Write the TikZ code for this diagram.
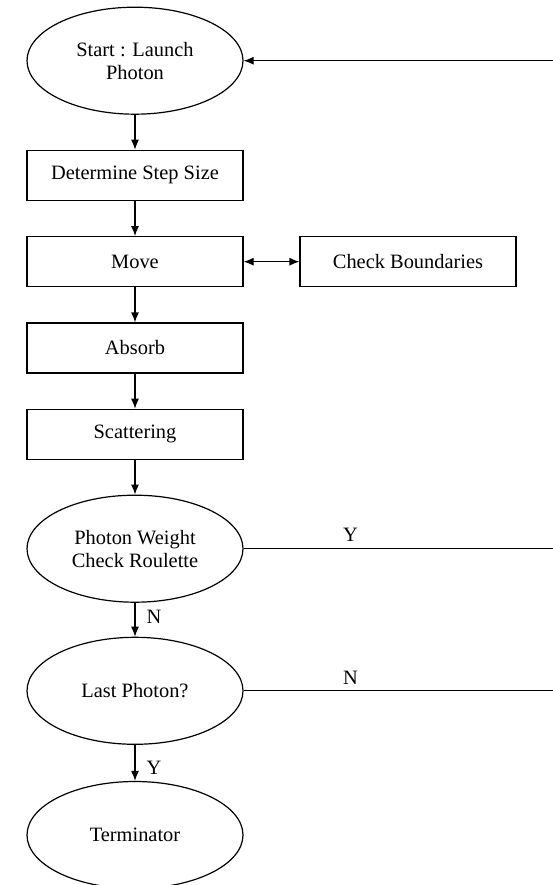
\documentclass[tikz,border=0pt]{standalone}
\usepackage{fontspec}
\setmainfont{Liberation Serif}
\usetikzlibrary{shapes.geometric,arrows.meta}
\begin{document}
\begin{tikzpicture}[x=1pt,y=-1pt,
  every node/.style={font=\fontsize{20.4}{22.7}\selectfont, align=center, inner sep=0pt},
  oval/.style={draw, ellipse, line width=1.2pt, minimum width=216pt, minimum height=107pt},
  box/.style={draw, rectangle, line width=1.2pt, minimum width=216pt, minimum height=50pt},
  conn/.style={line width=1.2pt, -{Latex[length=10pt,width=8pt]}},
  lbl/.style={font=\fontsize{20.4}{22.7}\selectfont}]
\useasboundingbox (0,0) rectangle (553,885);
\fill[white] (0,0) rectangle (553,885);
\node[oval] (start) at (135,60.7) {Start : Launch\\Photon};
\node[box] (step) at (135,175.3) {Determine Step Size};
\node[box] (move) at (135,261.7) {Move};
\node[box] (check) at (408,261.7) {Check Boundaries};
\node[box] (absorb) at (135,348) {Absorb};
\node[box] (scatter) at (135,434.3) {Scattering};
\node[oval] (weight) at (135,548.7) {Photon Weight\\Check Roulette};
\node[oval] (last) at (135,690.8) {Last Photon?};
\node[oval] (term) at (135,835) {Terminator};
\coordinate (loopR) at (562,0);
\draw[conn] (start) -- (step);
\draw[conn] (step) -- (move);
\draw[line width=1.2pt, {Latex[length=10pt,width=8pt]}-{Latex[length=10pt,width=8pt]}] (move) -- (check);
\draw[conn] (move) -- (absorb);
\draw[conn] (absorb) -- (scatter);
\draw[conn] (scatter) -- (weight);
\draw[conn] (weight) -- (last);
\draw[conn] (last) -- (term);
\draw[line width=1.2pt] (weight.east) -- (weight.east -| loopR);
\draw[conn] (last.east) -- (last.east -| loopR) |- (start.east);
\node[lbl] (yw) at (350.5,535) {Y};
\node[lbl] (nw) at (154,617) {N};
\node[lbl] (nl) at (350.5,677.5) {N};
\node[lbl] (yl) at (154,767.5) {Y};
\end{tikzpicture}
\end{document}
